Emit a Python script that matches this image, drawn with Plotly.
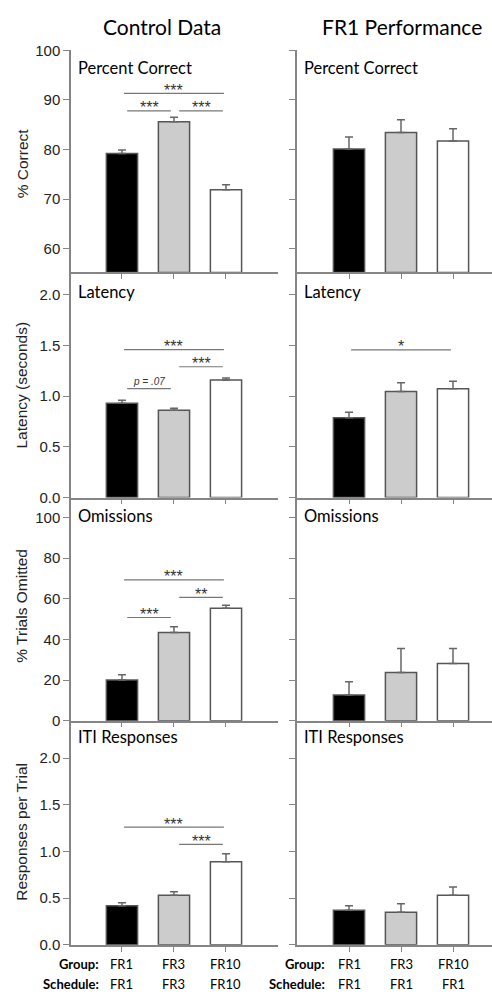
import plotly.graph_objects as go

W, H = 492, 1003

groups = ["FR1", "FR3", "FR10"]
schedule_left = ["FR1", "FR3", "FR10"]
schedule_right = ["FR1", "FR1", "FR1"]
bar_colors = ["#000000", "#cccccc", "#ffffff"]

panel_names = ["Percent Correct", "Latency", "Omissions", "ITI Responses"]
y_titles = ["% Correct", "Latency (seconds)", "% Trials Omitted", "Responses per Trial"]

# control data (left) means / SEM
ctrl_correct = [79.2, 85.6, 71.9]
ctrl_correct_err = [0.7, 0.9, 1.0]
ctrl_latency = [0.93, 0.86, 1.16]
ctrl_latency_err = [0.03, 0.02, 0.02]
ctrl_omit = [20.0, 43.4, 55.4]
ctrl_omit_err = [2.6, 2.9, 1.4]
ctrl_iti = [0.42, 0.53, 0.89]
ctrl_iti_err = [0.03, 0.04, 0.085]

# FR1 performance (right)
fr1_correct = [80.1, 83.4, 81.7]
fr1_correct_err = [2.4, 2.6, 2.5]
fr1_latency = [0.786, 1.046, 1.072]
fr1_latency_err = [0.055, 0.087, 0.074]
fr1_omit = [12.7, 23.7, 28.2]
fr1_omit_err = [6.5, 11.8, 7.3]
fr1_iti = [0.37, 0.35, 0.53]
fr1_iti_err = [0.05, 0.09, 0.09]

left_vals = [ctrl_correct, ctrl_latency, ctrl_omit, ctrl_iti]
left_errs = [ctrl_correct_err, ctrl_latency_err, ctrl_omit_err, ctrl_iti_err]
right_vals = [fr1_correct, fr1_latency, fr1_omit, fr1_iti]
right_errs = [fr1_correct_err, fr1_latency_err, fr1_omit_err, fr1_iti_err]

y_ranges = [[55.2, 100], [0, 2.22], [0, 109.8], [0, 2.4]]
y_ticks = [[60, 70, 80, 90, 100], [0, 0.5, 1.0, 1.5, 2.0], [0, 20, 40, 60, 80, 100], [0, 0.5, 1.0, 1.5, 2.0]]
y_ticktext = [["60", "70", "80", "90", "100"], ["0.0", "0.5", "1.0", "1.5", "2.0"],
              ["0", "20", "40", "60", "80", "100"], ["0.0", "0.5", "1.0", "1.5", "2.0"]]

# significance comparisons: (panel, side, from idx, to idx, line level, label)
comparisons = [
    (0, 0, 0, 2, 91.3, "***"),
    (0, 0, 0, 1, 87.8, "***"),
    (0, 0, 1, 2, 87.8, "***"),
    (1, 0, 0, 2, 1.46, "***"),
    (1, 0, 1, 2, 1.29, "***"),
    (1, 0, 0, 1, 1.075, "<i>p = .07</i>"),
    (1, 1, 0, 2, 1.456, "*"),
    (2, 0, 0, 2, 69.3, "***"),
    (2, 0, 1, 2, 60.7, "**"),
    (2, 0, 0, 1, 50.8, "***"),
    (3, 0, 0, 2, 1.26, "***"),
    (3, 0, 1, 2, 1.077, "***"),
]

# layout geometry (pixels)
x_dom_px = [(71, 278), (297, 492)]
x_ranges = [[-0.98, 3.0], [-1.0, 2.75]]
y_dom_px = [(42, 268), (268, 497), (497, 724), (724, 952)]

def px_x(p):
    return p / W

def px_y(p):
    return 1 - p / H

AXC = "#858585"
EDGE = "#555555"
TICKFONT = dict(family="Liberation Sans, Arial", size=15, color="#222")
TXTFONT = "Lato, Open Sans, sans-serif"

fig = go.Figure()
layout = {}

for p in range(4):
    for s in range(2):
        k = p * 2 + s + 1
        xa = "x" if k == 1 else f"x{k}"
        ya = "y" if k == 1 else f"y{k}"
        vals = left_vals[p] if s == 0 else right_vals[p]
        errs = left_errs[p] if s == 0 else right_errs[p]
        base = y_ranges[p][0]
        fig.add_trace(go.Bar(
            x=[0, 1, 2], y=[v - base for v in vals], base=base, width=0.6,
            marker=dict(color=bar_colors, line=dict(color=EDGE, width=1.5)),
            error_y=dict(type="data", array=errs, arrayminus=[0, 0, 0], symmetric=False,
                         color="#666", thickness=1.5, width=4),
            xaxis=xa, yaxis=ya, showlegend=False, hoverinfo="skip",
        ))
        x0, x1 = x_dom_px[s]
        ytop, ybot = y_dom_px[p]
        layout["xaxis" if k == 1 else f"xaxis{k}"] = dict(
            domain=[px_x(x0), px_x(x1)], range=x_ranges[s], anchor=ya,
            showline=True, linecolor=AXC, linewidth=1.5, ticks="outside", ticklen=5,
            tickcolor=AXC, tickwidth=1.2, tickvals=[0, 1, 2], showticklabels=False,
            showgrid=False, zeroline=False, fixedrange=True,
        )
        layout["yaxis" if k == 1 else f"yaxis{k}"] = dict(
            domain=[px_y(ybot), px_y(ytop)], range=y_ranges[p], anchor=xa,
            showline=True, linecolor=AXC, linewidth=1.5, ticks="outside", ticklen=6,
            tickcolor=AXC, tickwidth=1.2, tickvals=y_ticks[p], ticktext=y_ticktext[p],
            showticklabels=(s == 0), tickfont=TICKFONT,
            showgrid=False, zeroline=False, fixedrange=True,
        )

annotations = []
shapes = []

# column titles
for txt, xp in (("Control Data", 162), ("FR1 Performance", 402)):
    annotations.append(dict(x=px_x(xp), y=px_y(18), xref="paper", yref="paper", text=txt,
                            showarrow=False, font=dict(family=TXTFONT, size=21, color="#000"),
                            xanchor="center", yanchor="middle"))

label_y_px = [60, 288, 516, 741]
ytitle_y_px = [157, 383, 607, 837]
for p in range(4):
    for xp in (76, 302):
        annotations.append(dict(x=px_x(xp), y=px_y(label_y_px[p]), xref="paper", yref="paper",
                                text=panel_names[p], showarrow=False,
                                font=dict(family=TXTFONT, size=16.5, color="#000"),
                                xanchor="left", yanchor="middle"))
    annotations.append(dict(x=px_x(22), y=px_y(ytitle_y_px[p]), xref="paper", yref="paper",
                            text=y_titles[p], showarrow=False, textangle=-90,
                            font=dict(family="Liberation Sans, Arial", size=15.5, color="#222"),
                            xanchor="center", yanchor="middle"))

# significance lines
for (p, s, a, b, lvl, lab) in comparisons:
    k = p * 2 + s + 1
    xr = "x" if k == 1 else f"x{k}"
    yr = "y" if k == 1 else f"y{k}"
    if b - a == 2:
        xa0, xa1 = a + 0.04, b - 0.04
    else:
        xa0, xa1 = a + 0.1, b - 0.06
    shapes.append(dict(type="line", xref=xr, yref=yr, x0=xa0, x1=xa1, y0=lvl, y1=lvl,
                       line=dict(color="#777", width=1.2)))
    small = lab.startswith("<i>")
    annotations.append(dict(x=(xa0 + xa1) / 2, y=lvl, xref=xr, yref=yr, text=lab, showarrow=False,
                            xanchor="center", yanchor="middle", yshift=7 if small else 3,
                            font=dict(family="Liberation Sans, Arial", size=10 if small else 16,
                                      color="#333")))

# bottom group / schedule labels
row_y = [971, 992]
row_names = ["<b>Group:</b>", "<b>Schedule:</b>"]
for s, (xr, sched, lab_x) in enumerate([("x7", schedule_left, 101), ("x8", schedule_right, 327)]):
    rows = [groups, sched]
    for r in range(2):
        annotations.append(dict(x=px_x(lab_x), y=px_y(row_y[r]), xref="paper", yref="paper",
                                text=row_names[r], showarrow=False, xanchor="right", yanchor="middle",
                                font=dict(family=TXTFONT, size=13, color="#000")))
        for i, txt in enumerate(rows[r]):
            annotations.append(dict(x=i, y=px_y(row_y[r]), xref=xr, yref="paper", text=txt,
                                    showarrow=False, xanchor="center", yanchor="middle",
                                    font=dict(family=TXTFONT, size=13, color="#000")))

layout.update(dict(width=W, height=H, margin=dict(l=0, r=0, t=0, b=0),
                   paper_bgcolor="white", plot_bgcolor="white",
                   annotations=annotations, shapes=shapes, bargap=0.4))
fig.update_layout(**layout)
fig.write_html("out.html", config={"displayModeBar": False},
               post_script="document.body.style.margin='0';document.body.style.overflow='hidden';")
